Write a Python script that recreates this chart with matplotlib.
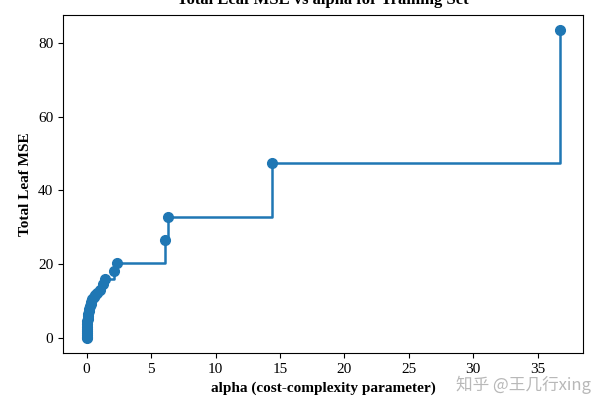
import matplotlib
matplotlib.use("Agg")
import matplotlib.pyplot as plt

# alpha values from the pruning path and the total leaf impurity at each
ccp_alphas = [0.0, 0.002, 0.005, 0.01, 0.015, 0.02, 0.03, 0.04, 0.05, 0.07,
              0.09, 0.12, 0.15, 0.19, 0.24, 0.3, 0.37, 0.45, 0.55, 0.68,
              0.82, 1.0, 1.25, 1.4, 2.1, 2.35, 6.1, 6.3, 14.4, 36.7]
impurities = [0.0, 0.3, 0.7, 1.2, 1.8, 2.4, 3.0, 3.7, 4.4, 5.1,
              5.8, 6.5, 7.2, 7.9, 8.6, 9.2, 9.8, 10.4, 11.0, 11.6,
              12.2, 12.9, 14.5, 15.8, 18.0, 20.3, 26.4, 32.8, 47.3, 83.4]

plt.rcParams['font.family'] = ['Liberation Serif', 'DejaVu Serif']

fig = plt.figure(figsize=(6, 4), dpi=100)
ax = fig.add_axes([0.105, 0.1175, 0.867, 0.845])

ax.plot(ccp_alphas, impurities, marker='o', drawstyle='steps-post',
        color='#1f77b4', markersize=7, linewidth=1.8)

ax.set_xlabel("alpha (cost-complexity parameter)", fontsize=11, fontweight='bold')
ax.set_ylabel("Total Leaf MSE", fontsize=11, fontweight='bold')
ax.set_title("Total Leaf MSE vs alpha for Training Set", fontsize=12,
             fontweight='bold', pad=8)
ax.tick_params(labelsize=11)

fig.text(0.985, 0.015, "知乎 @王几行xing", ha='right', va='bottom',
         fontsize=12, color='#b8b8b8',
         family=['Noto Sans CJK SC', 'DejaVu Sans'])

fig.savefig("out.png", dpi=100)
